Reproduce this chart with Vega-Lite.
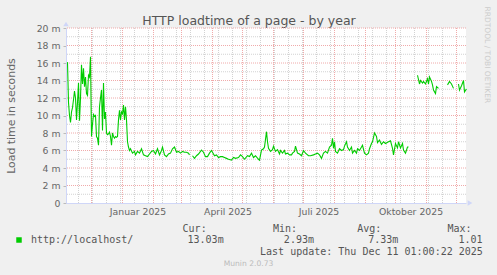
{
  "$schema": "https://vega.github.io/schema/vega-lite/v6.json",
  "width": 400,
  "height": 175,
  "autosize": "none",
  "padding": {"left": 66, "top": 28, "right": 31, "bottom": 72},
  "background": "#F0F0F0",
  "view": {"fill": "#FFFFFF", "stroke": null},
  "datasets": {
    "series": [
      {"date": "2024-11-07", "v": 0.0161}, {"date": "2024-11-08", "v": 0.0115}, {"date": "2024-11-09", "v": 0.0100}, {"date": "2024-11-10", "v": 0.0092},
      {"date": "2024-11-11", "v": 0.0104}, {"date": "2024-11-12", "v": 0.0109}, {"date": "2024-11-13", "v": 0.0118}, {"date": "2024-11-14", "v": 0.0128},
      {"date": "2024-11-15", "v": 0.0120}, {"date": "2024-11-16", "v": 0.0095}, {"date": "2024-11-17", "v": 0.0115}, {"date": "2024-11-18", "v": 0.0137},
      {"date": "2024-11-19", "v": 0.0094}, {"date": "2024-11-20", "v": 0.0120}, {"date": "2024-11-21", "v": 0.0158}, {"date": "2024-11-22", "v": 0.0136},
      {"date": "2024-11-23", "v": 0.0154}, {"date": "2024-11-24", "v": 0.0133}, {"date": "2024-11-25", "v": 0.0144}, {"date": "2024-11-26", "v": 0.0125},
      {"date": "2024-11-27", "v": 0.0123}, {"date": "2024-11-28", "v": 0.0146}, {"date": "2024-11-29", "v": 0.0144}, {"date": "2024-11-30", "v": 0.0167},
      {"date": "2024-12-01", "v": 0.0076}, {"date": "2024-12-02", "v": 0.0090}, {"date": "2024-12-03", "v": 0.0101}, {"date": "2024-12-04", "v": 0.0099},
      {"date": "2024-12-05", "v": 0.0100}, {"date": "2024-12-06", "v": 0.0076}, {"date": "2024-12-07", "v": 0.0074}, {"date": "2024-12-08", "v": 0.0066},
      {"date": "2024-12-09", "v": 0.0110}, {"date": "2024-12-10", "v": 0.0120}, {"date": "2024-12-11", "v": 0.0129}, {"date": "2024-12-12", "v": 0.0083},
      {"date": "2024-12-13", "v": 0.0137}, {"date": "2024-12-14", "v": 0.0096}, {"date": "2024-12-15", "v": 0.0104}, {"date": "2024-12-16", "v": 0.0080},
      {"date": "2024-12-17", "v": 0.0078}, {"date": "2024-12-18", "v": 0.0079}, {"date": "2024-12-19", "v": 0.0081}, {"date": "2024-12-20", "v": 0.0076},
      {"date": "2024-12-21", "v": 0.0066}, {"date": "2024-12-22", "v": 0.0080}, {"date": "2024-12-23", "v": 0.0076}, {"date": "2024-12-24", "v": 0.0074},
      {"date": "2024-12-25", "v": 0.0076}, {"date": "2024-12-26", "v": 0.0075}, {"date": "2024-12-27", "v": 0.0076}, {"date": "2024-12-28", "v": 0.0095},
      {"date": "2024-12-29", "v": 0.0106}, {"date": "2024-12-30", "v": 0.0095}, {"date": "2024-12-31", "v": 0.0104}, {"date": "2025-01-01", "v": 0.0102},
      {"date": "2025-01-02", "v": 0.0112}, {"date": "2025-01-03", "v": 0.0095}, {"date": "2025-01-04", "v": 0.0110}, {"date": "2025-01-05", "v": 0.0095},
      {"date": "2025-01-06", "v": 0.0070}, {"date": "2025-01-07", "v": 0.0064}, {"date": "2025-01-08", "v": 0.0060}, {"date": "2025-01-09", "v": 0.0062},
      {"date": "2025-01-11", "v": 0.0057}, {"date": "2025-01-13", "v": 0.0059}, {"date": "2025-01-14", "v": 0.0055}, {"date": "2025-01-16", "v": 0.0059},
      {"date": "2025-01-18", "v": 0.0057}, {"date": "2025-01-20", "v": 0.0062}, {"date": "2025-01-22", "v": 0.0055}, {"date": "2025-01-24", "v": 0.0054},
      {"date": "2025-01-26", "v": 0.0053}, {"date": "2025-01-28", "v": 0.0056}, {"date": "2025-01-30", "v": 0.0059}, {"date": "2025-02-01", "v": 0.0060},
      {"date": "2025-02-03", "v": 0.0056}, {"date": "2025-02-05", "v": 0.0062}, {"date": "2025-02-07", "v": 0.0055}, {"date": "2025-02-09", "v": 0.0060},
      {"date": "2025-02-10", "v": 0.0064}, {"date": "2025-02-12", "v": 0.0055}, {"date": "2025-02-14", "v": 0.0053}, {"date": "2025-02-16", "v": 0.0056},
      {"date": "2025-02-18", "v": 0.0057}, {"date": "2025-02-20", "v": 0.0062}, {"date": "2025-02-22", "v": 0.0064}, {"date": "2025-02-24", "v": 0.0058},
      {"date": "2025-02-26", "v": 0.0059}, {"date": "2025-02-28", "v": 0.0057}, {"date": "2025-03-02", "v": 0.0059}, {"date": "2025-03-04", "v": 0.0058},
      {"date": "2025-03-06", "v": 0.0058}, {"date": "2025-03-08", "v": 0.0057}, {"date": "2025-03-09", "v": 0.0055}, {"date": "2025-03-10", "v": null},
      {"date": "2025-03-12", "v": 0.0054}, {"date": "2025-03-14", "v": 0.0051}, {"date": "2025-03-16", "v": 0.0054}, {"date": "2025-03-18", "v": 0.0056},
      {"date": "2025-03-20", "v": 0.0059}, {"date": "2025-03-21", "v": 0.00605}, {"date": "2025-03-23", "v": 0.0058}, {"date": "2025-03-25", "v": 0.0053},
      {"date": "2025-03-27", "v": 0.0053}, {"date": "2025-03-29", "v": 0.0057}, {"date": "2025-03-31", "v": 0.0060}, {"date": "2025-04-01", "v": 0.0058},
      {"date": "2025-04-03", "v": 0.0054}, {"date": "2025-04-05", "v": 0.0055}, {"date": "2025-04-07", "v": 0.0052}, {"date": "2025-04-09", "v": 0.0053},
      {"date": "2025-04-11", "v": 0.0053}, {"date": "2025-04-13", "v": 0.0052}, {"date": "2025-04-15", "v": 0.0051}, {"date": "2025-04-17", "v": 0.0050},
      {"date": "2025-04-20", "v": 0.0049}, {"date": "2025-04-22", "v": 0.0052}, {"date": "2025-04-24", "v": 0.0051}, {"date": "2025-04-27", "v": 0.0052},
      {"date": "2025-04-29", "v": 0.0055}, {"date": "2025-05-01", "v": 0.0053}, {"date": "2025-05-03", "v": 0.0050}, {"date": "2025-05-06", "v": 0.0054},
      {"date": "2025-05-08", "v": 0.0053}, {"date": "2025-05-10", "v": 0.0057}, {"date": "2025-05-12", "v": 0.0052}, {"date": "2025-05-14", "v": 0.0054},
      {"date": "2025-05-17", "v": 0.0050}, {"date": "2025-05-18", "v": 0.0049}, {"date": "2025-05-20", "v": 0.00605}, {"date": "2025-05-22", "v": 0.0062},
      {"date": "2025-05-23", "v": 0.0064}, {"date": "2025-05-25", "v": 0.00815}, {"date": "2025-05-26", "v": 0.0070}, {"date": "2025-05-27", "v": 0.00625},
      {"date": "2025-05-29", "v": 0.0059}, {"date": "2025-05-31", "v": 0.0061}, {"date": "2025-06-01", "v": 0.0065}, {"date": "2025-06-03", "v": 0.0059},
      {"date": "2025-06-05", "v": 0.0061}, {"date": "2025-06-07", "v": 0.0056}, {"date": "2025-06-08", "v": 0.0060}, {"date": "2025-06-10", "v": 0.0057},
      {"date": "2025-06-12", "v": 0.0060}, {"date": "2025-06-13", "v": 0.0056}, {"date": "2025-06-15", "v": 0.0057}, {"date": "2025-06-17", "v": 0.0055},
      {"date": "2025-06-19", "v": 0.0055}, {"date": "2025-06-20", "v": 0.0057}, {"date": "2025-06-22", "v": 0.0059}, {"date": "2025-06-23", "v": 0.0065},
      {"date": "2025-06-25", "v": 0.0057}, {"date": "2025-06-27", "v": 0.0056}, {"date": "2025-06-29", "v": 0.0054}, {"date": "2025-07-01", "v": 0.0060},
      {"date": "2025-07-03", "v": 0.0057}, {"date": "2025-07-06", "v": 0.0054}, {"date": "2025-07-08", "v": 0.0054}, {"date": "2025-07-11", "v": 0.0055},
      {"date": "2025-07-13", "v": 0.0056}, {"date": "2025-07-15", "v": 0.0057}, {"date": "2025-07-17", "v": 0.0055}, {"date": "2025-07-19", "v": 0.0051},
      {"date": "2025-07-21", "v": 0.0057}, {"date": "2025-07-23", "v": 0.0059}, {"date": "2025-07-25", "v": 0.0057}, {"date": "2025-07-27", "v": 0.0064},
      {"date": "2025-07-29", "v": 0.0066}, {"date": "2025-07-30", "v": 0.0074}, {"date": "2025-07-31", "v": 0.00625}, {"date": "2025-08-01", "v": 0.0070},
      {"date": "2025-08-02", "v": 0.0059}, {"date": "2025-08-04", "v": 0.0057}, {"date": "2025-08-06", "v": 0.0062}, {"date": "2025-08-08", "v": 0.0060},
      {"date": "2025-08-10", "v": 0.0061}, {"date": "2025-08-11", "v": 0.0065}, {"date": "2025-08-13", "v": 0.0070}, {"date": "2025-08-14", "v": 0.0064},
      {"date": "2025-08-16", "v": 0.0060}, {"date": "2025-08-18", "v": 0.0064}, {"date": "2025-08-19", "v": 0.0057}, {"date": "2025-08-21", "v": 0.0060},
      {"date": "2025-08-23", "v": 0.0057}, {"date": "2025-08-24", "v": 0.0062}, {"date": "2025-08-26", "v": 0.0060}, {"date": "2025-08-28", "v": 0.0064},
      {"date": "2025-08-29", "v": 0.0066}, {"date": "2025-08-31", "v": 0.0057}, {"date": "2025-09-02", "v": 0.0055}, {"date": "2025-09-04", "v": 0.0057},
      {"date": "2025-09-05", "v": 0.0062}, {"date": "2025-09-07", "v": 0.0068}, {"date": "2025-09-08", "v": 0.0070}, {"date": "2025-09-10", "v": 0.0080},
      {"date": "2025-09-12", "v": 0.0076}, {"date": "2025-09-13", "v": 0.0069}, {"date": "2025-09-15", "v": 0.0072}, {"date": "2025-09-17", "v": 0.0067},
      {"date": "2025-09-19", "v": 0.0070}, {"date": "2025-09-21", "v": 0.0068}, {"date": "2025-09-24", "v": 0.0070}, {"date": "2025-09-26", "v": 0.0071},
      {"date": "2025-09-28", "v": 0.00625}, {"date": "2025-09-29", "v": 0.0055}, {"date": "2025-10-01", "v": 0.0068}, {"date": "2025-10-03", "v": 0.0063},
      {"date": "2025-10-04", "v": 0.0070}, {"date": "2025-10-06", "v": 0.0063}, {"date": "2025-10-08", "v": 0.0068}, {"date": "2025-10-09", "v": 0.00605},
      {"date": "2025-10-11", "v": 0.0057}, {"date": "2025-10-13", "v": 0.0064}, {"date": "2025-10-14", "v": 0.0064}, {"date": "2025-10-18", "v": null},
      {"date": "2025-10-23", "v": 0.0146}, {"date": "2025-10-25", "v": 0.0136}, {"date": "2025-10-26", "v": 0.0140}, {"date": "2025-10-28", "v": 0.0137},
      {"date": "2025-10-29", "v": 0.0139}, {"date": "2025-10-31", "v": 0.0136}, {"date": "2025-11-02", "v": 0.0142}, {"date": "2025-11-03", "v": 0.0136},
      {"date": "2025-11-04", "v": 0.0144}, {"date": "2025-11-06", "v": 0.0139}, {"date": "2025-11-07", "v": 0.0135}, {"date": "2025-11-08", "v": 0.0129},
      {"date": "2025-11-10", "v": 0.0125}, {"date": "2025-11-11", "v": 0.0133}, {"date": "2025-11-13", "v": 0.0131}, {"date": "2025-11-17", "v": null},
      {"date": "2025-11-22", "v": 0.0135}, {"date": "2025-11-24", "v": 0.0139}, {"date": "2025-11-26", "v": 0.0136}, {"date": "2025-11-28", "v": 0.0131},
      {"date": "2025-11-30", "v": null},
      {"date": "2025-12-03", "v": 0.0136}, {"date": "2025-12-04", "v": 0.0129}, {"date": "2025-12-06", "v": 0.0134}, {"date": "2025-12-08", "v": 0.0140},
      {"date": "2025-12-09", "v": 0.0127}, {"date": "2025-12-11", "v": 0.01303}
    ],
    "vminor": [
      {"date": "2024-11-18"}, {"date": "2024-12-02"}, {"date": "2024-12-16"}, {"date": "2024-12-30"}, {"date": "2025-01-13"}, {"date": "2025-01-27"},
      {"date": "2025-02-10"}, {"date": "2025-02-24"}, {"date": "2025-03-10"}, {"date": "2025-03-24"}, {"date": "2025-04-07"}, {"date": "2025-04-21"},
      {"date": "2025-05-05"}, {"date": "2025-05-19"}, {"date": "2025-06-02"}, {"date": "2025-06-16"}, {"date": "2025-06-30"}, {"date": "2025-07-14"},
      {"date": "2025-07-28"}, {"date": "2025-08-11"}, {"date": "2025-08-25"}, {"date": "2025-09-08"}, {"date": "2025-09-22"}, {"date": "2025-10-06"},
      {"date": "2025-10-20"}, {"date": "2025-11-03"}, {"date": "2025-11-17"}, {"date": "2025-12-01"}
    ],
    "vmajor": [
      {"date": "2024-12-01"}, {"date": "2025-01-01"}, {"date": "2025-02-01"}, {"date": "2025-03-01"}, {"date": "2025-04-01"}, {"date": "2025-05-01"},
      {"date": "2025-06-01"}, {"date": "2025-07-01"}, {"date": "2025-08-01"}, {"date": "2025-09-01"}, {"date": "2025-10-01"}, {"date": "2025-11-01"},
      {"date": "2025-12-01"}
    ],
    "hminor": [
      {"v": 0.001}, {"v": 0.003}, {"v": 0.005}, {"v": 0.007}, {"v": 0.009}, {"v": 0.011}, {"v": 0.013}, {"v": 0.015}, {"v": 0.017}, {"v": 0.019}
    ],
    "hmajor": [
      {"v": 0.002}, {"v": 0.004}, {"v": 0.006}, {"v": 0.008}, {"v": 0.010}, {"v": 0.012}, {"v": 0.014}, {"v": 0.016}, {"v": 0.018}, {"v": 0.020}
    ]
  },
  "layer": [
    {
      "data": {"name": "vminor"},
      "mark": {"type": "rule", "color": "#D2D2D2", "strokeWidth": 1, "strokeDash": [1, 1]},
      "encoding": {
        "x": {"field": "date", "type": "temporal",
          "scale": {"type": "utc", "domain": [{"year": 2024, "month": 11, "date": 5, "hours": 12, "utc": true}, {"year": 2025, "month": 12, "date": 10, "hours": 12, "utc": true}]},
          "axis": {"orient": "top", "labels": false, "ticks": false, "domain": false, "grid": false, "title": "HTTP loadtime of a page - by year", "titleFont": "DejaVu Sans", "titleFontSize": 12.5, "titleFontWeight": "normal", "titleColor": "#555555", "titleX": 182.5, "titleY": -4, "titleAlign": "center", "titleBaseline": "alphabetic"}}
      }
    },
    {
      "data": {"name": "hminor"},
      "mark": {"type": "rule", "color": "#D2D2D2", "strokeWidth": 1, "strokeDash": [1, 1]},
      "encoding": {
        "y": {"field": "v", "type": "quantitative", "scale": {"domain": [0, 0.02], "nice": false, "zero": true},
          "axis": {"orient": "right", "labels": false, "ticks": false, "domain": false, "grid": false, "title": "RRDTOOL / TOBI OETIKER", "titleFont": "DejaVu Sans", "titleFontSize": 7.5, "titleFontWeight": "normal", "titleColor": "#CCCCCC", "titleAngle": 90, "titleX": 20.5, "titleY": -22, "titleAlign": "left", "titleBaseline": "middle"}}
      }
    },
    {
      "data": {"name": "vmajor"},
      "mark": {"type": "rule", "color": "#F0AAAA", "strokeWidth": 1, "strokeDash": [1, 1]},
      "encoding": {
        "x": {"field": "date", "type": "temporal",
          "scale": {"type": "utc", "domain": [{"year": 2024, "month": 11, "date": 5, "hours": 12, "utc": true}, {"year": 2025, "month": 12, "date": 10, "hours": 12, "utc": true}]},
          "axis": {"orient": "bottom", "labels": false, "ticks": false, "domain": false, "grid": false, "title": "Munin 2.0.73", "titleFont": "DejaVu Sans", "titleFontSize": 7.6, "titleFontWeight": "normal", "titleColor": "#BBBBBB", "titleX": 182, "titleY": 60.7, "titleAlign": "center", "titleBaseline": "middle"}}
      }
    },
    {
      "data": {"name": "hmajor"},
      "mark": {"type": "rule", "color": "#F0AAAA", "strokeWidth": 1, "strokeDash": [1, 1]},
      "encoding": {
        "y": {"field": "v", "type": "quantitative", "scale": {"domain": [0, 0.02], "nice": false, "zero": true}, "axis": null}
      }
    },
    {
      "data": {"name": "series"},
      "mark": {"type": "line", "strokeWidth": 1.1, "invalid": "break-paths-show-domains"},
      "encoding": {
        "x": {"field": "date", "type": "temporal",
          "scale": {"type": "utc", "domain": [{"year": 2024, "month": 11, "date": 5, "hours": 12, "utc": true}, {"year": 2025, "month": 12, "date": 10, "hours": 12, "utc": true}]},
          "axis": {
            "orient": "bottom",
            "values": [{"year": 2025, "month": 1, "date": 16, "utc": true}, {"year": 2025, "month": 4, "date": 16, "utc": true}, {"year": 2025, "month": 7, "date": 16, "utc": true}, {"year": 2025, "month": 10, "date": 16, "utc": true}],
            "labelExpr": "['Januar','Februar','März','April','Mai','Juni','Juli','August','September','Oktober','November','Dezember'][utcmonth(datum.value)] + ' ' + utcyear(datum.value)",
            "labelFont": "DejaVu Sans", "labelFontSize": 9.3, "labelColor": "#666666", "labelPadding": 4, "labelBaseline": "top", "labelAlign": "center", "labelFlush": false, "labelOverlap": false,
            "ticks": false, "grid": false, "domain": true, "domainColor": "#CFD6F8", "domainWidth": 1,
            "title": "Last update: Thu Dec 11 01:00:22 2025", "titleFont": "DejaVu Sans Mono", "titleFontSize": 10, "titleFontWeight": "normal", "titleColor": "#555555", "titleAlign": "right", "titleX": 416.3, "titleY": 48.7, "titleBaseline": "middle"
          }},
        "y": {"field": "v", "type": "quantitative", "scale": {"domain": [0, 0.02], "nice": false, "zero": true},
          "axis": {
            "orient": "left",
            "values": [0, 0.002, 0.004, 0.006, 0.008, 0.01, 0.012, 0.014, 0.016, 0.018, 0.02],
            "labelExpr": "datum.value == 0 ? '0' : format(datum.value * 1000, '.0f') + ' m'",
            "labelFont": "DejaVu Sans", "labelFontSize": 9.3, "labelColor": "#666666", "labelPadding": 3,
            "ticks": true, "tickSize": 3, "tickColor": "#BBBBBB", "grid": false, "domain": true, "domainColor": "#CFD6F8",
            "title": "Load time in seconds", "titleFont": "DejaVu Sans", "titleFontSize": 10.9, "titleFontWeight": "normal", "titleColor": "#666666",
            "titleX": -55, "titleY": 87.5, "titleAngle": 270, "titleAlign": "center", "titleBaseline": "middle"
          }},
        "color": {"datum": "http://localhost/", "type": "nominal", "scale": {"range": ["#00CC00"]},
          "legend": {
            "orient": "none", "legendX": -52, "legendY": 195.5, "padding": 0,
            "title": "\u200b\u00a0\u00a0\u00a0\u00a0\u00a0\u00a0\u00a0\u00a0\u00a0\u00a0\u00a0\u00a0\u00a0\u00a0\u00a0\u00a0\u00a0\u00a0\u00a0\u00a0\u00a0\u00a0\u00a0\u00a0\u00a0\u00a0\u00a0\u00a0Cur:\u00a0\u00a0\u00a0\u00a0\u00a0\u00a0\u00a0\u00a0\u00a0\u00a0\u00a0Min:\u00a0\u00a0\u00a0\u00a0\u00a0\u00a0\u00a0\u00a0\u00a0\u00a0Avg:\u00a0\u00a0\u00a0\u00a0\u00a0\u00a0\u00a0\u00a0\u00a0\u00a0\u00a0Max:",
            "titleFont": "DejaVu Sans Mono", "titleFontSize": 10, "titleFontWeight": "normal", "titleColor": "#555555", "titleLimit": 600, "titlePadding": 1.5,
            "symbolType": "square", "symbolSize": 30, "symbolStrokeWidth": 0,
            "labelFont": "DejaVu Sans Mono", "labelFontSize": 10, "labelColor": "#555555", "labelLimit": 600, "labelOffset": 7,
            "labelExpr": "datum.label + '\u00a0\u00a0\u00a0\u00a0\u00a0\u00a0\u00a0\u00a0\u00a013.03m\u00a0\u00a0\u00a0\u00a0\u00a0\u00a0\u00a0\u00a0\u00a0\u00a02.93m\u00a0\u00a0\u00a0\u00a0\u00a0\u00a0\u00a0\u00a0\u00a07.33m\u00a0\u00a0\u00a0\u00a0\u00a0\u00a0\u00a0\u00a0\u00a0\u00a01.01'",
            "encode": {"symbols": {"update": {"fill": {"value": "#00CC00"}, "stroke": {"value": "transparent"}}}}
          }}
      }
    },
    {
      "data": {"values": [{}]},
      "mark": {"type": "point", "shape": "triangle-right", "filled": true, "size": 30, "color": "#CFD6F8", "opacity": 1, "xOffset": 4},
      "encoding": {
        "x": {"datum": {"year": 2025, "month": 12, "date": 10, "hours": 12, "utc": true}, "type": "temporal",
          "scale": {"type": "utc", "domain": [{"year": 2024, "month": 11, "date": 5, "hours": 12, "utc": true}, {"year": 2025, "month": 12, "date": 10, "hours": 12, "utc": true}]}, "axis": null},
        "y": {"datum": 0, "type": "quantitative", "scale": {"domain": [0, 0.02], "nice": false, "zero": true}, "axis": null}
      }
    },
    {
      "data": {"values": [{}]},
      "mark": {"type": "point", "shape": "triangle-up", "filled": true, "size": 30, "color": "#CFD6F8", "opacity": 1, "yOffset": -4},
      "encoding": {
        "x": {"datum": {"year": 2024, "month": 11, "date": 5, "hours": 12, "utc": true}, "type": "temporal",
          "scale": {"type": "utc", "domain": [{"year": 2024, "month": 11, "date": 5, "hours": 12, "utc": true}, {"year": 2025, "month": 12, "date": 10, "hours": 12, "utc": true}]}, "axis": null},
        "y": {"datum": 0.02, "type": "quantitative", "scale": {"domain": [0, 0.02], "nice": false, "zero": true}, "axis": null}
      }
    }
  ],
  "resolve": {"axis": {"x": "independent", "y": "independent"}}
}
